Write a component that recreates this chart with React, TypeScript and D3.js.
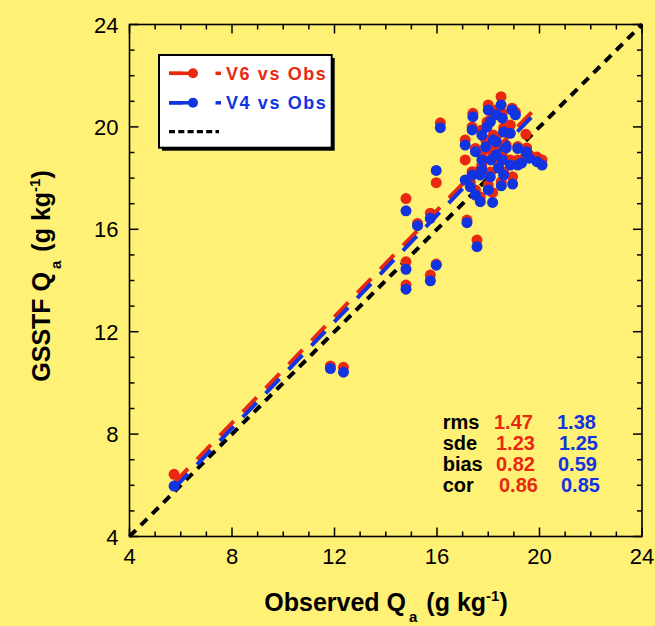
import React from "react";
import * as d3 from "d3";

// Observed Qa (g/kg) and GSSTF Qa from V6 and V4 (g/kg)
const obsQa = [5.74, 11.84, 12.35, 14.79, 14.79, 14.79, 15.24, 15.74, 15.97, 15.74, 16.13, 15.97, 17.17, 17.56, 18.17, 18.51, 18.95, 18.5, 17.4, 18.93, 19.06, 18.08, 18.31, 18.55, 17.37, 17.95, 17.75, 18.86, 19.47, 17.1, 17.5, 18.31, 19.15, 19.5, 19.9, 20.1, 17.1, 17.75, 18.55, 19.15, 18.86, 17.75, 17.37, 17.69, 18.08, 17.3, 17.5, 17.69, 18.2, 18.3, 18.4, 18.1, 18.6, 18.7, 18.0, 17.9, 18.6, 19.3, 19.6, 18.0];
const v6Qa = [6.43, 10.66, 10.61, 17.2, 14.73, 13.82, 16.23, 16.63, 14.64, 14.21, 20.16, 17.82, 16.36, 15.58, 17.43, 17.86, 18.05, 21.18, 20.53, 20.73, 20.58, 20.27, 20.66, 20.54, 20.0, 20.19, 19.88, 20.07, 19.71, 19.49, 19.16, 19.6, 19.23, 19.18, 18.82, 18.71, 18.71, 18.9, 18.9, 18.71, 18.71, 18.51, 18.25, 18.32, 18.24, 17.85, 17.54, 17.26, 19.68, 19.1, 18.51, 19.1, 19.96, 19.29, 17.73, 19.49, 18.24, 18.71, 18.9, 20.86];
const v4Qa = [5.97, 10.56, 10.42, 16.72, 14.44, 13.66, 16.14, 16.43, 14.6, 13.99, 19.97, 18.3, 16.26, 15.32, 17.05, 17.7, 17.77, 20.86, 20.4, 20.66, 20.47, 20.2, 20.47, 20.34, 19.88, 20.0, 19.68, 19.75, 19.0, 19.29, 19.03, 19.42, 19.16, 19.03, 18.64, 18.51, 17.93, 18.71, 18.71, 18.51, 18.51, 18.32, 18.12, 18.12, 18.05, 17.66, 17.34, 17.08, 19.49, 18.9, 18.39, 18.71, 19.8, 19.18, 17.54, 19.22, 18.12, 18.59, 18.78, 20.66];

// regression fits [slope, intercept] and x-extent
const v6Fit = [1.038, 0.13];
const v4Fit = [1.04, -0.09];
const fitRange = [5.74, 19.9];

const axisTicks = [4, 8, 12, 16, 20, 24];
const legendLabels = ["V6 vs Obs", "V4 vs Obs"];
const statNames = ["rms", "sde", "bias", "cor"];
const statV6 = ["1.47", "1.23", "0.82", "0.86"];
const statV4 = ["1.38", "1.25", "0.59", "0.85"];

const W = 655, H = 626;
const BG = "#FFF176";
const RED = "#E9290F";
const BLUE = "#1233E0";
const FONT = "'Liberation Sans', Arial, Helvetica, sans-serif";

export default function App() {
  const left = 129.5, right = 642, top = 24.5, bottom = 536.5;
  const x = d3.scaleLinear().domain([4, 24]).range([left, right]);
  const y = d3.scaleLinear().domain([4, 24]).range([bottom, top]);
  const line = d3.line<[number, number]>().x(d => x(d[0])).y(d => y(d[1]));
  const fitPts = (f: number[]) => fitRange.map(v => [v, f[0] * v + f[1]] as [number, number]);
  const minor = d3.range(4, 25, 1);

  const statX = [442.7, 494, 557];
  const statYs = [429, 450, 471, 492];
  const statOffsets = [[0, 0], [2, 2], [2, 1], [5, 4]];

  const title = (main: string) => (
    <>
      {main}
      <tspan fontSize={15} dx={3} dy={11}>a</tspan>
      <tspan dx={9} dy={-11}>(g kg</tspan>
      <tspan fontSize={15} dy={-10}>-1</tspan>
      <tspan dy={10}>)</tspan>
    </>
  );

  return (
    <svg width={W} height={H} style={{ position: "fixed", left: 0, top: 0, background: BG }} fontFamily={FONT}>
      <rect x={0} y={0} width={W} height={H} fill={BG} />
      {/* frame */}
      <rect x={left} y={top} width={right - left} height={bottom - top} fill="none" stroke="#000" strokeWidth={1.6} />
      {minor.map(v => {
        const len = v % 4 === 0 ? 9 : 5;
        return (
          <g key={"t" + v} stroke="#000" strokeWidth={1.5}>
            <line x1={x(v)} x2={x(v)} y1={bottom} y2={bottom - len} />
            <line x1={x(v)} x2={x(v)} y1={top} y2={top + len} />
            <line x1={left} x2={left + len} y1={y(v)} y2={y(v)} />
            <line x1={right} x2={right - len} y1={y(v)} y2={y(v)} />
          </g>
        );
      })}
      {axisTicks.map(v => (
        <text key={"xl" + v} x={x(v)} y={bottom + 27} fontSize={22} textAnchor="middle" fill="#000">{v}</text>
      ))}
      {axisTicks.map(v => (
        <text key={"yl" + v} x={left - 11} y={y(v) + 8} fontSize={22} textAnchor="end" fill="#000">{v}</text>
      ))}

      {/* 1:1 line */}
      <path d={line([[4, 4], [24, 24]]) || ""} stroke="#000" strokeWidth={4} strokeDasharray="9 7" fill="none" />
      {/* V6 */}
      <path d={line(fitPts(v6Fit)) || ""} stroke={RED} strokeWidth={4} strokeDasharray="20 13" fill="none" />
      {obsQa.map((o, i) => (
        <circle key={"r" + i} cx={x(o)} cy={y(v6Qa[i])} r={5.5} fill={RED} />
      ))}
      {/* V4 */}
      <path d={line(fitPts(v4Fit)) || ""} stroke={BLUE} strokeWidth={4} strokeDasharray="20 13" fill="none" />
      {obsQa.map((o, i) => (
        <circle key={"b" + i} cx={x(o)} cy={y(v4Qa[i])} r={5.5} fill={BLUE} />
      ))}

      {/* legend */}
      <rect x={162} y={58} width={172.7} height={92.7} fill="#000" />
      <rect x={159} y={55} width={172.7} height={92.7} fill="#fff" stroke="#000" strokeWidth={2} />
      {legendLabels.map((lab, i) => {
        const cy = 73.3 + i * 29.5;
        const c = i === 0 ? RED : BLUE;
        return (
          <g key={"lg" + i}>
            <line x1={169} x2={195} y1={cy} y2={cy} stroke={c} strokeWidth={3.5} />
            <line x1={169} x2={183} y1={cy} y2={cy} stroke={c} strokeWidth={3.5} />
            <circle cx={193} cy={cy} r={5} fill={c} />
            <line x1={215.5} x2={221} y1={cy} y2={cy} stroke={c} strokeWidth={3.5} />
            <text x={226} y={cy + 6.3} fontSize={18} fontWeight="bold" fill={c} letterSpacing={1.6}>{lab}</text>
          </g>
        );
      })}
      <line x1={169} x2={219} y1={131.7} y2={131.7} stroke="#000" strokeWidth={3.3} strokeDasharray="6 3.3" />

      {/* statistics */}
      {statNames.map((s, i) => (
        <g key={"st" + i} fontSize={20} fontWeight="bold">
          <text x={statX[0]} y={statYs[i]} fill="#000">{s}</text>
          <text x={statX[1] + statOffsets[i][0]} y={statYs[i]} fill={RED}>{statV6[i]}</text>
          <text x={statX[2] + statOffsets[i][1]} y={statYs[i]} fill={BLUE}>{statV4[i]}</text>
        </g>
      ))}

      {/* axis titles */}
      <text x={386} y={611} fontSize={25} fontWeight="bold" textAnchor="middle" fill="#000">
        {title("Observed Q")}
      </text>
      <text transform="translate(50,276) rotate(-90)" x={0} y={0} fontSize={25} fontWeight="bold" textAnchor="middle" fill="#000">
        {title("GSSTF Q")}
      </text>
    </svg>
  );
}
